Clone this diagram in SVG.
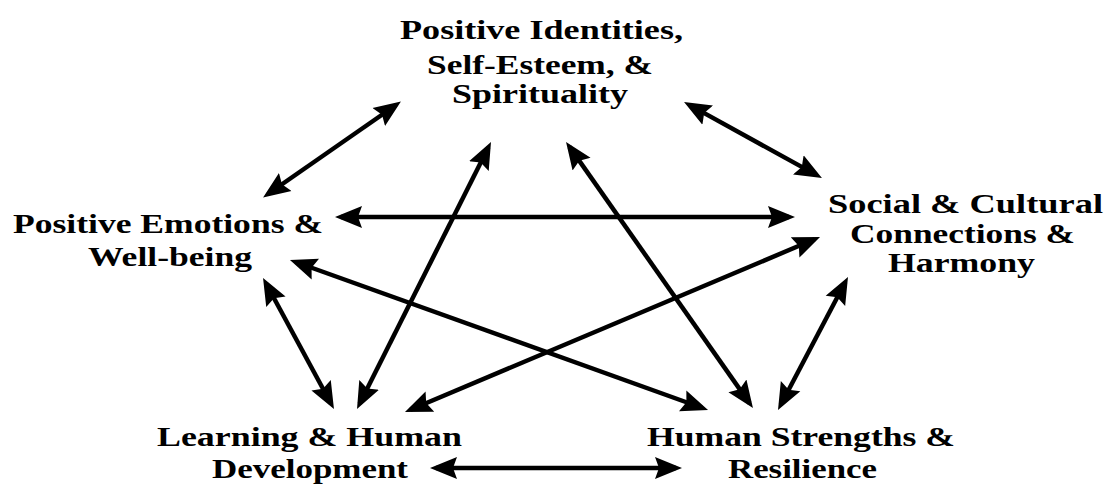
<svg xmlns="http://www.w3.org/2000/svg" width="1104" height="485" viewBox="0 0 1104 485">
<style>
text{font-family:"Liberation Serif","Times New Roman",serif;font-weight:bold;font-size:28px;fill:#000}
.c{stroke:#000;stroke-width:4.5;fill:none;marker-start:url(#ah);marker-end:url(#ah)}
</style>
<defs>
<marker id="ah" markerUnits="userSpaceOnUse" viewBox="0 0 28 24" markerWidth="28" markerHeight="24" refX="21" refY="12" orient="auto-start-reverse">
<path d="M0,1 L27,12 L0,23 L4,12 z" fill="#000"/>
</marker>
</defs>
<rect width="1104" height="485" fill="#fff"/>
<g id="connectors">
<line class="c" x1="268" y1="194" x2="396" y2="105"/>
<line class="c" x1="689.3" y1="104.9" x2="816.7" y2="175.1"/>
<line class="c" x1="341" y1="217" x2="789" y2="217"/>
<line class="c" x1="265.9" y1="283.3" x2="331.1" y2="403.7"/>
<line class="c" x1="295.6" y1="262" x2="702.4" y2="408"/>
<line class="c" x1="359.7" y1="403.6" x2="488.3" y2="147.4"/>
<line class="c" x1="569.5" y1="146.9" x2="749.5" y2="403.1"/>
<line class="c" x1="814.5" y1="239.3" x2="410.5" y2="409.7"/>
<line class="c" x1="845.2" y1="282.3" x2="780.8" y2="404.7"/>
<line class="c" x1="436" y1="468" x2="676" y2="468"/>
</g>
<g id="identities">
<text x="400" y="39" textLength="283" lengthAdjust="spacingAndGlyphs">Positive Identities,</text>
<text x="427" y="74" textLength="226" lengthAdjust="spacingAndGlyphs">Self-Esteem, &amp;</text>
<text x="452" y="103" textLength="176" lengthAdjust="spacingAndGlyphs">Spirituality</text>
</g>
<g id="emotions">
<text x="13" y="233" textLength="310" lengthAdjust="spacingAndGlyphs">Positive Emotions &amp;</text>
<text x="88" y="266" textLength="164" lengthAdjust="spacingAndGlyphs">Well-being</text>
</g>
<g id="social">
<text x="828" y="213" textLength="275" lengthAdjust="spacingAndGlyphs">Social &amp; Cultural</text>
<text x="850" y="243" textLength="225" lengthAdjust="spacingAndGlyphs">Connections &amp;</text>
<text x="888" y="272" textLength="147" lengthAdjust="spacingAndGlyphs">Harmony</text>
</g>
<g id="learning">
<text x="157" y="446" textLength="305" lengthAdjust="spacingAndGlyphs">Learning &amp; Human</text>
<text x="212" y="478" textLength="196" lengthAdjust="spacingAndGlyphs">Development</text>
</g>
<g id="strengths">
<text x="647" y="446" textLength="308" lengthAdjust="spacingAndGlyphs">Human Strengths &amp;</text>
<text x="728" y="478" textLength="149" lengthAdjust="spacingAndGlyphs">Resilience</text>
</g>
</svg>
